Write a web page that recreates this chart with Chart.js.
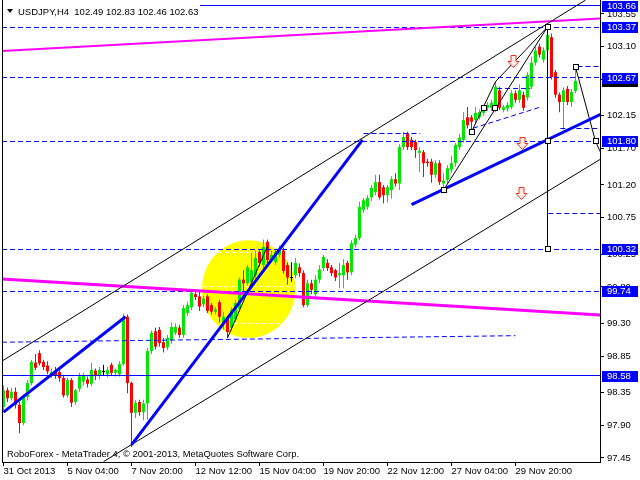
<!DOCTYPE html>
<html><head><meta charset="utf-8">
<script src="https://cdn.jsdelivr.net/npm/chart.js@4.4.1/dist/chart.umd.min.js"></script>
<style>html,body{margin:0;padding:0;background:#fff;}canvas{display:block;}</style>
</head><body>
<canvas id="c" width="640" height="480"></canvas>
<script>
// ---- data ----
const xTickBars = [0, 16, 32, 48, 64, 80, 96, 112, 128];
const xTickLabels = ['31 Oct 2013','5 Nov 04:00','7 Nov 20:00','12 Nov 12:00','15 Nov 04:00','19 Nov 20:00','22 Nov 12:00','27 Nov 04:00','29 Nov 20:00'];
const yTickValues = [97.45, 97.90, 98.35, 98.85, 99.30, 99.80, 100.25, 100.75, 101.20, 101.70, 102.15, 102.65, 103.10, 103.55];
const highlightLevels = [103.66, 103.37, 102.67, 101.80, 100.32, 99.74, 98.58];
const bidPrice = 102.63;
const titleText = 'USDJPY,H4  102.49 102.83 102.46 102.63';
const footerText = 'RoboForex - MetaTrader 4, \u00A9 2001-2013, MetaQuotes Software Corp.';

const opens = [98.15,98.38,98.27,98.36,98.18,97.93,98.29,98.48,98.76,98.89,98.77,98.72,98.58,98.64,98.63,98.55,98.31,98.52,98.22,98.40,
98.50,98.53,98.47,98.65,98.58,98.63,98.60,98.73,98.62,98.60,98.74,99.39,98.48,98.07,98.22,98.08,98.20,98.92,99.19,99.21,
99.04,98.97,99.07,99.17,99.24,99.14,99.44,99.52,99.70,99.67,99.56,99.67,99.55,99.46,99.59,99.32,99.37,99.24,99.35,99.50,
99.90,99.85,99.87,99.96,100.28,100.10,100.42,100.18,100.14,100.24,100.30,100.10,99.92,99.96,100.07,99.99,99.55,99.85,99.70,99.90,
100.06,100.13,100.07,100.03,99.96,99.96,100.13,100.00,100.38,100.47,100.86,100.90,101.03,101.10,101.24,101.17,101.06,101.13,101.28,101.22,
101.72,101.91,101.82,101.79,101.64,101.65,101.52,101.52,101.34,101.50,101.22,101.27,101.41,101.50,101.72,101.82,102.13,102.13,102.09,102.13,
102.19,102.26,102.26,102.23,102.50,102.23,102.25,102.27,102.46,102.37,102.44,102.40,102.55,102.88,103.10,102.92,103.05,103.23,102.75,102.44,
102.34,102.52,102.34,102.49];
const highs = [98.45,98.42,98.42,98.42,98.22,98.32,98.52,98.80,98.88,98.93,98.80,98.78,98.68,98.70,98.67,98.58,98.55,98.55,98.40,98.62,
98.62,98.57,98.76,98.68,98.70,98.73,98.70,98.76,98.68,98.78,99.43,99.42,98.50,98.25,98.25,98.25,98.96,99.20,99.24,99.25,
99.10,99.14,99.31,99.30,99.28,99.55,99.60,99.76,99.75,99.76,99.68,99.70,99.58,99.52,99.62,99.46,99.40,99.52,99.62,99.93,
100.03,100.10,100.27,100.30,100.32,100.45,100.45,100.30,100.32,100.37,100.34,100.14,100.14,100.20,100.12,100.03,99.90,99.90,99.96,100.10,
100.24,100.18,100.10,100.05,100.13,100.18,100.16,100.44,100.52,100.97,101.02,101.06,101.20,101.34,101.34,101.20,101.20,101.32,101.36,101.76,
101.93,101.93,101.86,101.82,101.72,101.68,101.56,101.56,101.54,101.54,101.36,101.47,101.60,101.78,101.90,102.20,102.27,102.16,102.27,102.24,
102.30,102.34,102.37,102.62,102.55,102.30,102.34,102.50,102.50,102.58,102.48,102.75,102.96,103.10,103.14,103.09,103.37,103.28,102.78,102.47,
102.54,102.56,102.52,102.83];
const lows = [98.10,98.22,98.24,98.13,97.79,97.90,98.24,98.45,98.66,98.72,98.66,98.60,98.55,98.54,98.50,98.28,98.28,98.15,98.18,98.36,
98.45,98.42,98.44,98.52,98.53,98.58,98.56,98.58,98.57,98.57,98.72,98.34,97.60,98.00,98.03,97.97,97.98,98.88,98.94,98.98,
98.90,98.93,99.02,99.14,99.10,99.10,99.40,99.48,99.62,99.47,99.52,99.44,99.42,99.42,99.31,99.21,99.10,99.20,99.32,99.46,
99.73,99.82,99.84,99.92,100.08,100.06,100.13,100.14,100.10,100.20,99.98,99.83,99.87,99.92,99.94,99.52,99.52,99.70,99.66,99.85,
100.02,100.02,99.95,99.88,99.78,99.78,99.90,99.96,100.34,100.44,100.82,100.86,100.98,101.06,101.00,100.95,100.96,101.01,101.18,101.13,
101.68,101.68,101.68,101.57,101.38,101.31,101.45,101.23,101.30,101.20,101.10,101.22,101.37,101.45,101.68,101.78,101.98,101.93,102.05,102.10,
102.15,102.22,102.22,102.20,102.23,102.20,102.21,102.24,102.33,102.33,102.22,102.36,102.52,102.84,102.95,102.88,103.01,102.65,102.40,102.20,
101.96,102.30,102.27,102.46];
const closes = [98.38,98.27,98.36,98.18,97.93,98.29,98.48,98.77,98.69,98.75,98.70,98.64,98.63,98.58,98.55,98.31,98.52,98.21,98.38,98.57,
98.58,98.47,98.66,98.58,98.66,98.63,98.66,98.62,98.66,98.74,99.39,98.48,98.07,98.21,98.08,98.20,98.92,99.17,98.98,99.03,
98.96,99.10,99.25,99.25,99.14,99.51,99.55,99.72,99.66,99.53,99.64,99.47,99.46,99.49,99.39,99.39,99.18,99.48,99.58,99.90,
99.85,100.07,100.03,100.20,100.13,100.35,100.17,100.24,100.28,100.33,100.02,99.93,99.92,100.13,99.99,99.55,99.85,99.76,99.90,100.04,
100.21,100.06,99.99,99.93,99.99,100.10,100.00,100.40,100.47,100.90,100.99,101.02,101.16,101.24,101.03,101.06,101.17,101.28,101.22,101.72,
101.86,101.72,101.72,101.68,101.67,101.50,101.50,101.34,101.50,101.24,101.26,101.43,101.50,101.75,101.85,102.09,102.02,102.07,102.19,102.20,
102.27,102.30,102.33,102.55,102.26,102.27,102.30,102.46,102.37,102.50,102.26,102.71,102.88,103.05,102.99,103.05,103.26,102.68,102.44,102.34,
102.50,102.34,102.48,102.63];

// ---- drawn objects (bar index, price) ----
const dashedLevels = [103.37, 102.67, 101.80, 100.32, 99.74];
const solidLevels = [103.66, 98.58];
const dashedSegments = [
  [[143.5,102.83],[150,102.83]],
  [[139.2,101.97],[150,101.97]],
  [[136.2,100.81],[150,100.81]],
  [[90,101.91],[104.2,101.91]],
  [[123.4,102.53],[131.7,102.53]],
  [[117.4,101.98],[134.2,102.27]],
  [[-0.4,99.04],[128,99.13]]
];
const whiteDashes = [
  [[53.6,100.27],[71.6,100.27]],
  [[49.8,99.80],[72.8,99.80]],
  [[54.1,99.30],[70.9,99.30]]
];
const circle = {i: 61.3, p: 99.77, di: 11.7, dp: 0.67};
const blueLines = [
  [[0,98.08],[30.5,99.39]],
  [[32,97.63],[89.75,101.82]],
  [[102,100.93],[150,102.19]]
];
const magentaThin = [[-0.4,103.04],[150,103.49]];
const magentaThick = [[-0.4,99.91],[150,99.41]];
const blackLines = [
  [[-0.4,98.78],[145.5,103.74]],
  [[25,97.40],[150,101.58]],
  [[110,101.13],[136,103.37]],
  [[117,101.93],[123,102.62],[136,103.37]],
  [[136,103.37],[136,100.32]],
  [[143,102.82],[148,101.80],[150,101.56]],
  [[56,99.10],[66,100.36]]
];
const anchorSquares = [[136,103.37],[143,102.82],[148,101.80],[136,101.81],[136,100.32],[117,101.93],[110,101.13],[120,102.26],[123,102.26]];
const downArrows = [[127.4,102.90],[129.6,101.78],[129.4,101.09]];

const XMIN = -0.375, XMAX = 149.125, YMIN = 97.395, YMAX = 103.741;
const FONT = '"Liberation Sans", Arial, sans-serif';

const idx = opens.map((_, i) => i);
const colors = idx.map(i => Math.abs(closes[i] - opens[i]) < 0.005 ? '#000000' : (closes[i] > opens[i] ? '#00E800' : '#FF0000'));

function path(ctx, xs, ys, pts, color, width, dash) {
  ctx.beginPath();
  pts.forEach(([i, p], k) => {
    let px = xs.getPixelForValue(i), py = ys.getPixelForValue(p);
    if (width % 2 === 1) { if (pts.length === 2 && pts[0][1] === pts[1][1]) py = Math.round(py - 0.5) + 0.5; if (pts.length === 2 && pts[0][0] === pts[1][0]) px = Math.round(px - 0.5) + 0.5; }
    k ? ctx.lineTo(px, py) : ctx.moveTo(px, py);
  });
  ctx.strokeStyle = color; ctx.lineWidth = width; ctx.setLineDash(dash || []); ctx.stroke();
}

const overlay = {
  id: 'overlay',
  beforeDatasetsDraw(chart) {
    const {ctx, chartArea: a, scales: {x, y}} = chart;
    ctx.save();
    ctx.beginPath(); ctx.rect(a.left, a.top, a.right - a.left, a.bottom - a.top); ctx.clip();
    const cx = x.getPixelForValue(circle.i), cy = y.getPixelForValue(circle.p);
    const rx = Math.abs(x.getPixelForValue(circle.i + circle.di) - cx);
    const ry = Math.abs(y.getPixelForValue(circle.p + circle.dp) - cy);
    ctx.fillStyle = '#FFFF00';
    ctx.beginPath(); ctx.ellipse(cx, cy, rx, ry, 0, 0, Math.PI * 2); ctx.fill();
    whiteDashes.forEach(s => path(ctx, x, y, s, '#FFFFFF', 1, [4, 3]));
    ctx.restore();
  },
  afterDatasetsDraw(chart) {
    const {ctx, chartArea: a, scales: {x, y}} = chart;
    ctx.save();
    ctx.beginPath(); ctx.rect(a.left, a.top, a.right - a.left, a.bottom - a.top); ctx.clip();
    dashedLevels.forEach(v => path(ctx, x, y, [[XMIN, v], [XMAX, v]], '#0000FF', 1, [5, 3]));
    solidLevels.forEach(v => path(ctx, x, y, [[XMIN, v], [XMAX, v]], '#0000FF', 1));
    dashedSegments.forEach(s => path(ctx, x, y, s, '#0000FF', 1, [5, 3]));
    path(ctx, x, y, magentaThin, '#FF00FF', 2);
    path(ctx, x, y, magentaThick, '#FF00FF', 3);
    blackLines.forEach(s => path(ctx, x, y, s, '#000000', 1));
    blueLines.forEach(s => path(ctx, x, y, s, '#0000FF', 3));
    ctx.setLineDash([]);
    anchorSquares.forEach(([i, p]) => {
      const px = Math.round(x.getPixelForValue(i)), py = Math.round(y.getPixelForValue(p));
      ctx.fillStyle = '#FFFFFF'; ctx.fillRect(px - 3, py - 3, 6, 6);
      ctx.strokeStyle = '#000000'; ctx.lineWidth = 1; ctx.strokeRect(px - 2.5, py - 2.5, 5, 5);
    });
    downArrows.forEach(([i, p]) => {
      const cx = Math.round(x.getPixelForValue(i)) + 0.5, cy = Math.round(y.getPixelForValue(p)) + 0.5;
      ctx.beginPath();
      ctx.moveTo(cx - 2.5, cy - 6); ctx.lineTo(cx + 2.5, cy - 6); ctx.lineTo(cx + 2.5, cy);
      ctx.lineTo(cx + 5.5, cy); ctx.lineTo(cx, cy + 6); ctx.lineTo(cx - 5.5, cy); ctx.lineTo(cx - 2.5, cy); ctx.closePath();
      ctx.fillStyle = '#FFF0E8'; ctx.fill();
      ctx.strokeStyle = '#F03020'; ctx.lineWidth = 1; ctx.stroke();
    });
    ctx.restore();
  },
  afterDraw(chart) {
    const {ctx, chartArea: a, scales: {y}} = chart;
    ctx.save();
    ctx.fillStyle = '#000'; ctx.fillRect(a.left, 0, 1, a.bottom);
    // bid and level boxes on the price axis
    const box = (v, bg) => {
      const py = Math.round(y.getPixelForValue(v));
      ctx.fillStyle = bg; ctx.fillRect(a.right + 2, py - 5, 36, 11);
      return py;
    };
    box(bidPrice, '#000000');
    ctx.font = '9.5px ' + FONT; ctx.textBaseline = 'middle'; ctx.textAlign = 'left';
    highlightLevels.forEach(v => {
      const py = box(v, '#0000FF');
      ctx.fillStyle = '#FFFFFF'; ctx.fillText(v.toFixed(2), a.right + 7, py + 0.5);
    });
    // title
    ctx.fillStyle = '#FFFFFF'; ctx.fillRect(a.left + 1, 0, 197, 17);
    ctx.fillStyle = '#000';
    ctx.beginPath(); ctx.moveTo(7, 9); ctx.lineTo(13, 9); ctx.lineTo(10, 13); ctx.closePath(); ctx.fill();
    ctx.textBaseline = 'alphabetic';
    ctx.fillText(titleText, 18, 15);
    ctx.fillText(footerText, 7, 457, 292);
    ctx.restore();
  }
};

new Chart(document.getElementById('c'), {
  type: 'bar',
  data: {
    datasets: [
      { data: idx.map(i => ({x: i, y: [lows[i], highs[i]]})), backgroundColor: colors, barThickness: 1, grouped: false, borderWidth: 0, inflateAmount: 0, order: 2 },
      { data: idx.map(i => ({x: i, y: [opens[i], closes[i]]})), backgroundColor: colors, barThickness: 3, grouped: false, borderWidth: 0, inflateAmount: 0, minBarLength: 1, order: 1 }
    ]
  },
  options: {
    responsive: false, animation: false, devicePixelRatio: 1,
    layout: {padding: {left: 2, top: 0, right: 0, bottom: 0}},
    plugins: {legend: {display: false}, tooltip: {enabled: false}},
    scales: {
      x: {
        type: 'linear', min: XMIN, max: XMAX, position: 'bottom', offset: false,
        grid: {drawOnChartArea: false, drawTicks: true, tickLength: 4, color: '#000', offset: false},
        border: {display: true, color: '#000'},
        ticks: {autoSkip: false, maxRotation: 0, minRotation: 0, align: 'start', padding: 0, color: '#000', font: {family: FONT, size: 9.5},
          callback: v => { const k = xTickBars.indexOf(v); return k < 0 ? '' : xTickLabels[k]; }},
        afterBuildTicks: s => { s.ticks = xTickBars.map(v => ({value: v})); },
        afterFit: s => { s.height = 18; s.paddingLeft = 0; s.paddingRight = 0; }
      },
      y: {
        type: 'linear', min: YMIN, max: YMAX, position: 'right',
        grid: {drawOnChartArea: false, drawTicks: true, tickLength: 4, color: '#000'},
        border: {display: true, color: '#000'},
        ticks: {autoSkip: false, padding: 3, color: '#000', font: {family: FONT, size: 9.5}, callback: v => Number(v).toFixed(2)},
        afterBuildTicks: s => { s.ticks = yTickValues.map(v => ({value: v})); },
        afterFit: s => { s.width = 40; s.paddingTop = 0; s.paddingBottom = 0; }
      }
    }
  },
  plugins: [overlay]
});
</script>
</body></html>
